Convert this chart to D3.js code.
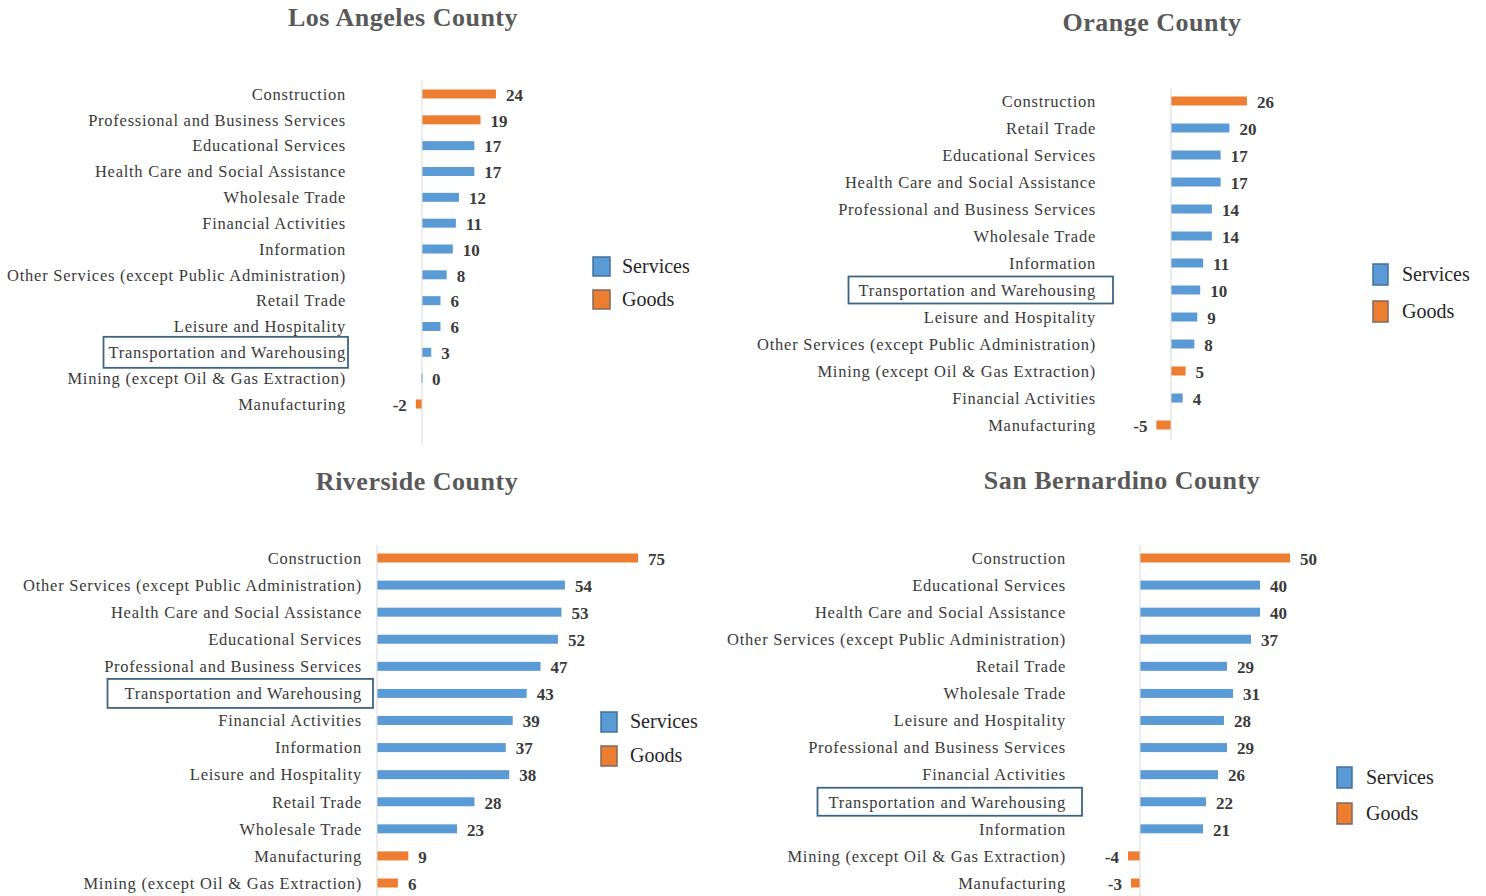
<!DOCTYPE html>
<html>
<head>
<meta charset="utf-8">
<script src="https://cdn.jsdelivr.net/npm/d3@7"></script>
<style>
  html, body { margin: 0; padding: 0; background: #ffffff; }
  svg { display: block; font-family: "Liberation Serif", "Times New Roman", serif; }
</style>
</head>
<body>
<svg id="chart" width="1486" height="896"></svg>
<script>
// ---------- DATA ----------
const seriesNames = ["Services", "Goods"];
const highlightCategory = "Transportation and Warehousing";

const laTitle = "Los Angeles County";
const laCategories = ["Construction", "Professional and Business Services", "Educational Services",
  "Health Care and Social Assistance", "Wholesale Trade", "Financial Activities", "Information",
  "Other Services (except Public Administration)", "Retail Trade", "Leisure and Hospitality",
  "Transportation and Warehousing", "Mining (except Oil & Gas Extraction)", "Manufacturing"];
const laValues = [24, 19, 17, 17, 12, 11, 10, 8, 6, 6, 3, 0, -2];
const laSeries = ["Goods", "Goods", "Services", "Services", "Services", "Services", "Services",
  "Services", "Services", "Services", "Services", "Services", "Goods"];

const ocTitle = "Orange County";
const ocCategories = ["Construction", "Retail Trade", "Educational Services",
  "Health Care and Social Assistance", "Professional and Business Services", "Wholesale Trade",
  "Information", "Transportation and Warehousing", "Leisure and Hospitality",
  "Other Services (except Public Administration)", "Mining (except Oil & Gas Extraction)",
  "Financial Activities", "Manufacturing"];
const ocValues = [26, 20, 17, 17, 14, 14, 11, 10, 9, 8, 5, 4, -5];
const ocSeries = ["Goods", "Services", "Services", "Services", "Services", "Services", "Services",
  "Services", "Services", "Services", "Goods", "Services", "Goods"];

const rvTitle = "Riverside County";
const rvCategories = ["Construction", "Other Services (except Public Administration)",
  "Health Care and Social Assistance", "Educational Services", "Professional and Business Services",
  "Transportation and Warehousing", "Financial Activities", "Information", "Leisure and Hospitality",
  "Retail Trade", "Wholesale Trade", "Manufacturing", "Mining (except Oil & Gas Extraction)"];
const rvValues = [75, 54, 53, 52, 47, 43, 39, 37, 38, 28, 23, 9, 6];
const rvSeries = ["Goods", "Services", "Services", "Services", "Services", "Services", "Services",
  "Services", "Services", "Services", "Services", "Goods", "Goods"];

const sbTitle = "San Bernardino County";
const sbCategories = ["Construction", "Educational Services", "Health Care and Social Assistance",
  "Other Services (except Public Administration)", "Retail Trade", "Wholesale Trade",
  "Leisure and Hospitality", "Professional and Business Services", "Financial Activities",
  "Transportation and Warehousing", "Information", "Mining (except Oil & Gas Extraction)",
  "Manufacturing"];
const sbValues = [50, 40, 40, 37, 29, 31, 28, 29, 26, 22, 21, -4, -3];
const sbSeries = ["Goods", "Services", "Services", "Services", "Services", "Services", "Services",
  "Services", "Services", "Services", "Services", "Goods", "Goods"];

// ---------- STYLE / LAYOUT ----------
const colors = { Services: "#5B9BD5", Goods: "#ED7D31" };
const legendStroke = { Services: "#41719C", Goods: "#7F6A5E" };
const textColor = "#3a3a3a";
const titleColor = "#595959";

const panels = [
  { title: laTitle, cats: laCategories, vals: laValues, ser: laSeries,
    axisX: 422, k: 3.08, yFirst: 94, yLast: 404, axisTop: 80, axisBottom: 445,
    labelRight: 346, titleX: 403, titleY: 26,
    legend: { x: 593, y: 257, w: 17, h: 19, gap: 33, textX: 622 },
    box: { l: 5, r: 2, h: 31 } },
  { title: ocTitle, cats: ocCategories, vals: ocValues, ser: ocSeries,
    axisX: 1171, k: 2.92, yFirst: 101, yLast: 425, axisTop: 88, axisBottom: 440,
    labelRight: 1096, titleX: 1152, titleY: 31,
    legend: { x: 1373, y: 264, w: 15, h: 21, gap: 37, textX: 1402 },
    box: { l: 10, r: 17, h: 27 } },
  { title: rvTitle, cats: rvCategories, vals: rvValues, ser: rvSeries,
    axisX: 377, k: 3.48, yFirst: 558, yLast: 883, axisTop: 545, axisBottom: 896,
    labelRight: 362, titleX: 417, titleY: 490,
    legend: { x: 601, y: 712, w: 16, h: 20, gap: 34, textX: 630 },
    box: { l: 17, r: 11, h: 29 } },
  { title: sbTitle, cats: sbCategories, vals: sbValues, ser: sbSeries,
    axisX: 1140, k: 3.0, yFirst: 558, yLast: 883, axisTop: 545, axisBottom: 896,
    labelRight: 1066, titleX: 1122, titleY: 489,
    legend: { x: 1337, y: 767, w: 15, h: 21, gap: 36, textX: 1366 },
    box: { l: 11, r: 16, h: 28 } }
];

const svg = d3.select("#chart");

panels.forEach(p => {
  const g = svg.append("g");
  const rows = p.cats.map((c, i) => ({ cat: c, val: p.vals[i], ser: p.ser[i] }));
  const dmin = Math.min(0, d3.min(p.vals));
  const dmax = d3.max(p.vals);
  const x = d3.scaleLinear().domain([dmin, dmax])
    .range([p.axisX + p.k * dmin, p.axisX + p.k * dmax]);
  const y = d3.scalePoint().domain(p.cats).range([p.yFirst, p.yLast]);
  const barH = 9;

  // title
  g.append("text")
    .attr("x", p.titleX).attr("y", p.titleY)
    .attr("text-anchor", "middle")
    .attr("font-size", 26).attr("font-weight", "bold")
    .attr("letter-spacing", "0.5px")
    .attr("fill", titleColor)
    .text(p.title);

  // bars
  g.selectAll("rect.bar").data(rows).join("rect")
    .attr("class", "bar")
    .attr("x", d => Math.min(x(0), x(d.val)) - (d.val === 0 ? 0.75 : 0))
    .attr("y", d => y(d.cat) - barH / 2)
    .attr("width", d => Math.max(1.5, Math.abs(x(d.val) - x(0))))
    .attr("height", barH)
    .attr("fill", d => colors[d.ser]);

  // axis line (vertical category axis at zero)
  g.append("line")
    .attr("x1", x(0)).attr("x2", x(0))
    .attr("y1", p.axisTop).attr("y2", p.axisBottom)
    .attr("stroke", "#d9d9d9").attr("stroke-width", 1);

  // category labels
  const labels = g.selectAll("text.cat").data(rows).join("text")
    .attr("class", "cat")
    .attr("x", p.labelRight)
    .attr("y", d => y(d.cat))
    .attr("dy", "0.35em")
    .attr("text-anchor", "end")
    .attr("font-size", 16.5)
    .attr("letter-spacing", "0.75px")
    .attr("fill", textColor)
    .text(d => d.cat);

  // highlight box
  labels.filter(d => d.cat === highlightCategory).each(function(d) {
    const bb = this.getBBox();
    g.append("rect")
      .attr("x", bb.x - p.box.l)
      .attr("y", y(d.cat) - p.box.h / 2)
      .attr("width", bb.width + p.box.l + p.box.r)
      .attr("height", p.box.h)
      .attr("fill", "none")
      .attr("stroke", "#3E6483")
      .attr("stroke-width", 1.8);
  });

  // value labels
  g.selectAll("text.val").data(rows).join("text")
    .attr("class", "val")
    .attr("x", d => d.val < 0 ? x(d.val) - 9 : x(d.val) + 10)
    .attr("y", d => y(d.cat))
    .attr("dy", "0.4em")
    .attr("text-anchor", d => d.val < 0 ? "end" : "start")
    .attr("font-size", 17).attr("font-weight", "bold")
    .attr("fill", textColor)
    .text(d => d.val);

  // legend
  const lg = g.append("g");
  seriesNames.forEach((s, i) => {
    lg.append("rect")
      .attr("x", p.legend.x).attr("y", p.legend.y + i * p.legend.gap)
      .attr("width", p.legend.w).attr("height", p.legend.h)
      .attr("fill", colors[s])
      .attr("stroke", legendStroke[s]).attr("stroke-width", 1.5);
    lg.append("text")
      .attr("x", p.legend.textX)
      .attr("y", p.legend.y + i * p.legend.gap + p.legend.h / 2)
      .attr("dy", "0.3em")
      .attr("font-size", 20)
      .attr("fill", "#262626")
      .text(s);
  });
});
</script>
</body>
</html>
